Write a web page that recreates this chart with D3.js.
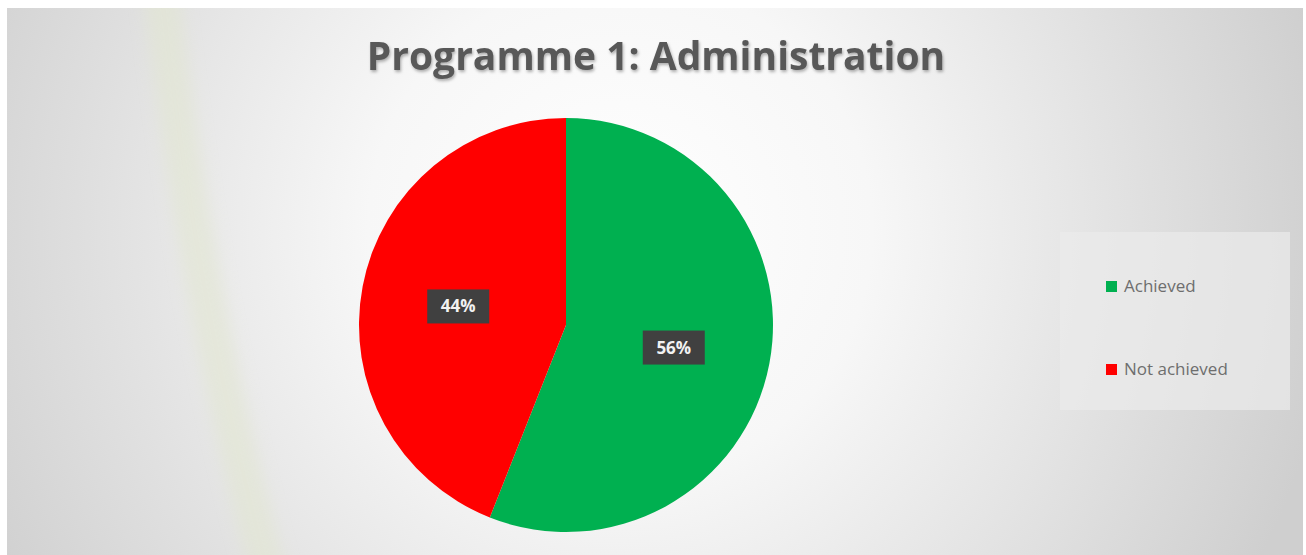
<!DOCTYPE html>
<html>
<head>
<meta charset="utf-8">
<script src="https://cdn.jsdelivr.net/npm/d3@7"></script>
<style>
  body { margin: 0; background: #fff; }
  svg { display: block; }
</style>
</head>
<body>
<div id="chart"></div>
<script>
var title = "Programme 1: Administration";
var categories = ["Achieved", "Not achieved"];
var values = [56, 44];
var colors = ["#00b050", "#ff0000"];

var width = 1306, height = 555;
var svg = d3.select("#chart").append("svg")
  .attr("width", width)
  .attr("height", height);

var defs = svg.append("defs");

// background glow
var bg = defs.append("radialGradient")
  .attr("id", "bg")
  .attr("gradientUnits", "userSpaceOnUse")
  .attr("cx", 620).attr("cy", 230).attr("r", 720);
bg.append("stop").attr("offset", "0%").attr("stop-color", "#ffffff");
bg.append("stop").attr("offset", "35%").attr("stop-color", "#f7f7f7");
bg.append("stop").attr("offset", "100%").attr("stop-color", "#cfcfcf");

var shadow = defs.append("filter").attr("id", "shadow")
  .attr("x", "-10%").attr("y", "-30%").attr("width", "120%").attr("height", "160%");
shadow.append("feDropShadow")
  .attr("dx", 1).attr("dy", 2).attr("stdDeviation", 1.5)
  .attr("flood-color", "#000").attr("flood-opacity", 0.3);

var blur = defs.append("filter").attr("id", "blur")
  .attr("filterUnits", "userSpaceOnUse")
  .attr("x", 0).attr("y", 0).attr("width", width).attr("height", height);
blur.append("feGaussianBlur").attr("stdDeviation", 8);

svg.append("rect")
  .attr("x", 7).attr("y", 8)
  .attr("width", 1296).attr("height", 547)
  .attr("fill", "url(#bg)");

// faint watermark band on the left
svg.append("path")
  .attr("d", "M160,-20 Q195,300 270,580")
  .attr("fill", "none")
  .attr("stroke", "#e2e6d2")
  .attr("stroke-width", 36)
  .attr("opacity", 0.6)
  .attr("filter", "url(#blur)");

// keep the white frame around the plot area
svg.append("path")
  .attr("d", "M0,0H1306V555H0Z M7,8V555H1303V8Z")
  .attr("fill", "#fff")
  .attr("fill-rule", "evenodd");

svg.append("text")
  .attr("x", 656)
  .attr("y", 70)
  .attr("text-anchor", "middle")
  .style("font-family", "'Open Sans', sans-serif")
  .style("font-weight", "bold")
  .style("font-size", "39px")
  .style("fill", "#595959")
  .attr("filter", "url(#shadow)")
  .text(title);

// pie
var cx = 566, cy = 325, radius = 207;
var data = categories.map(function(c, i) { return {name: c, value: values[i], color: colors[i]}; });

var pie = d3.pie().sort(null).value(function(d) { return d.value; });
var arc = d3.arc().innerRadius(0).outerRadius(radius);
var labelArc = d3.arc().innerRadius(radius * 0.53).outerRadius(radius * 0.53);

var g = svg.append("g").attr("transform", "translate(" + cx + "," + cy + ")");
var arcs = pie(data);

g.selectAll("path")
  .data(arcs)
  .enter()
  .append("path")
  .attr("d", arc)
  .attr("fill", function(d) { return d.data.color; });

var totals = d3.sum(values);
var labels = g.selectAll("g.lab")
  .data(arcs)
  .enter()
  .append("g")
  .attr("class", "lab")
  .attr("transform", function(d) {
    var c = labelArc.centroid(d);
    return "translate(" + c[0] + "," + (c[1] + 2) + ")";
  });

labels.append("rect")
  .attr("x", -31).attr("y", -17)
  .attr("width", 62).attr("height", 34)
  .attr("fill", "#404040");

labels.append("text")
  .attr("text-anchor", "middle")
  .attr("dy", "0.35em")
  .style("font-family", "'Open Sans', sans-serif")
  .style("font-weight", "bold")
  .style("font-size", "17px")
  .style("fill", "#f2f2f2")
  .text(function(d) { return Math.round(d.data.value / totals * 100) + "%"; });

// legend
var legend = svg.append("g");
legend.append("rect")
  .attr("x", 1060).attr("y", 232)
  .attr("width", 230).attr("height", 178)
  .attr("fill", "#ebebeb")
  .attr("opacity", 0.7);

var y = d3.scalePoint().domain(categories).range([286, 369]);
var items = legend.selectAll("g.item")
  .data(data)
  .enter()
  .append("g")
  .attr("class", "item")
  .attr("transform", function(d) { return "translate(1106," + y(d.name) + ")"; });

items.append("rect")
  .attr("x", 0).attr("y", -5)
  .attr("width", 11).attr("height", 11)
  .attr("fill", function(d) { return d.color; });

items.append("text")
  .attr("x", 18)
  .attr("dy", "0.35em")
  .style("font-family", "'Open Sans', sans-serif")
  .style("font-size", "17px")
  .style("fill", "#6e6e6e")
  .text(function(d) { return d.name; });
</script>
</body>
</html>
